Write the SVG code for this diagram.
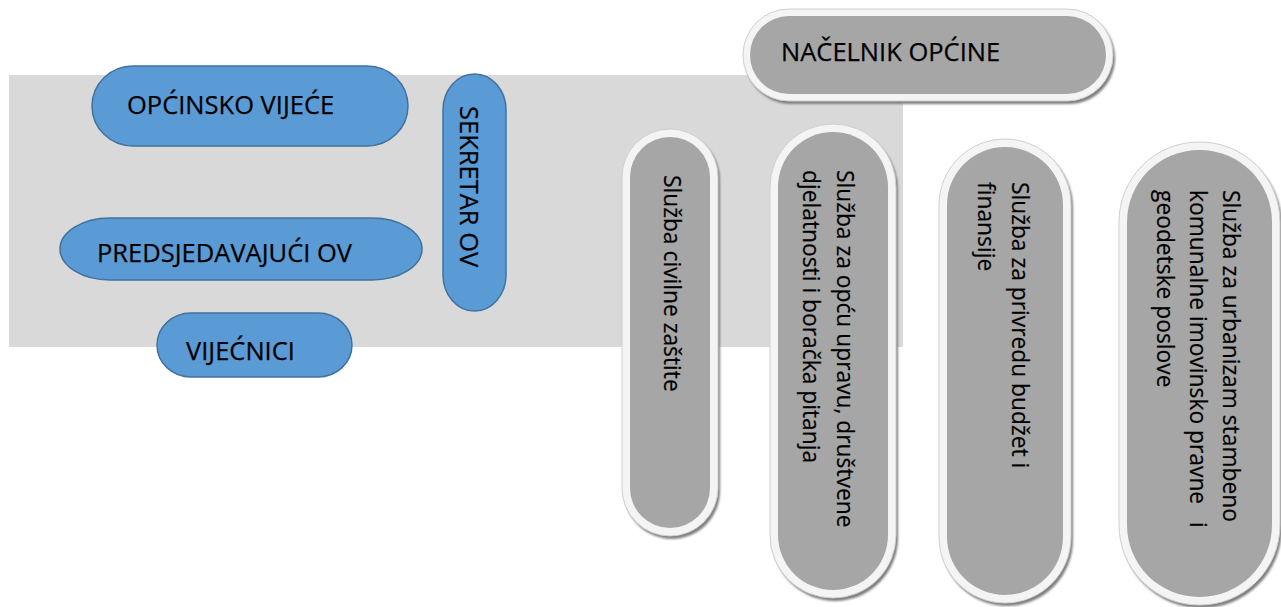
<svg xmlns="http://www.w3.org/2000/svg" width="1281" height="607" viewBox="0 0 1281 607">
  <defs>
    <filter id="sh" x="-10%" y="-10%" width="130%" height="130%">
      <feGaussianBlur stdDeviation="1.2"/>
    </filter>
  </defs>
  <style>
    .bg { fill: #d9d9d9; }
    .blue { fill: #5b9bd5; stroke: #41719c; stroke-width: 1.5; }
    .shadow { fill: #7f7f7f; filter: url(#sh); }
    .rim { fill: #f4f4f4; stroke: #cfcfcf; stroke-width: 1; }
    .gray { fill: #a6a6a6; }
    .t { font-family: "Open Sans", "DejaVu Sans", sans-serif; font-size: 25.5px; fill: #000; stroke: #000; stroke-width: 0.25; }
    .v { font-family: "Open Sans", "DejaVu Sans", sans-serif; font-size: 22.8px; fill: #000; stroke: #000; stroke-width: 0.2; }
  </style>

  <rect class="bg" x="9" y="75" width="894" height="272"/>

  <g id="connectors"></g>

  <g id="opcinsko-vijece">
    <rect class="blue" x="92" y="66" width="316" height="80" rx="41" ry="40"/>
    <text class="t" x="127" y="114">OPĆINSKO VIJEĆE</text>
  </g>

  <g id="predsjedavajuci-ov">
    <rect class="blue" x="60" y="218" width="362" height="62" rx="50" ry="31"/>
    <text class="t" x="97" y="262">PREDSJEDAVAJUĆI OV</text>
  </g>

  <g id="vijecnici">
    <rect class="blue" x="157" y="313" width="195" height="64" rx="34" ry="32"/>
    <text class="t" x="186" y="360">VIJEĆNICI</text>
  </g>

  <g id="sekretar-ov">
    <rect class="blue" x="443" y="74" width="63" height="237" rx="31.5" ry="36"/>
    <text class="t" transform="translate(460,106) rotate(90)">SEKRETAR OV</text>
  </g>

  <g id="nacelnik-opcine">
    <rect class="shadow" x="745" y="12" width="370" height="92" rx="46"/>
    <rect class="rim" x="743" y="9" width="370" height="92" rx="46"/>
    <rect class="gray" x="750" y="16" width="356" height="78" rx="39"/>
    <text class="t" x="781" y="61">NAČELNIK OPĆINE</text>
  </g>

  <g id="sluzba-civilne-zastite">
    <rect class="shadow" x="624" y="132" width="96" height="407" rx="48"/>
    <rect class="rim" x="622" y="129" width="96" height="407" rx="48"/>
    <rect class="gray" x="630" y="137" width="80" height="391" rx="40"/>
    <text class="v" transform="translate(664,175) rotate(90)">Služba civilne zaštite</text>
  </g>

  <g id="sluzba-opca-uprava">
    <rect class="shadow" x="772" y="127" width="126" height="474" rx="63"/>
    <rect class="rim" x="770" y="124" width="126" height="474" rx="63"/>
    <rect class="gray" x="778" y="132" width="110" height="458" rx="55"/>
    <text class="v" transform="translate(837,170) rotate(90)"><tspan x="0" y="0">Služba za opću upravu, društvene</tspan><tspan x="0" dy="34">djelatnosti i boračka pitanja</tspan></text>
  </g>

  <g id="sluzba-privreda">
    <rect class="shadow" x="941" y="142" width="132" height="464" rx="66"/>
    <rect class="rim" x="939" y="139" width="132" height="464" rx="66"/>
    <rect class="gray" x="947" y="147" width="116" height="448" rx="58"/>
    <text class="v" transform="translate(1012,182) rotate(90)"><tspan x="0" y="0">Služba za privredu budžet i</tspan><tspan x="0" dy="34">finansije</tspan></text>
  </g>

  <g id="sluzba-urbanizam">
    <rect class="shadow" x="1121" y="145" width="161" height="463" rx="80"/>
    <rect class="rim" x="1119" y="142" width="161" height="463" rx="80"/>
    <rect class="gray" x="1127" y="150" width="145" height="447" rx="72"/>
    <text class="v" transform="translate(1223,190) rotate(90)"><tspan x="0" y="0">Služba za urbanizam stambeno</tspan><tspan x="0" dy="33">komunalne imovinsko pravne&#160;&#160; i</tspan><tspan x="0" dy="33">geodetske poslove</tspan></text>
  </g>
</svg>
